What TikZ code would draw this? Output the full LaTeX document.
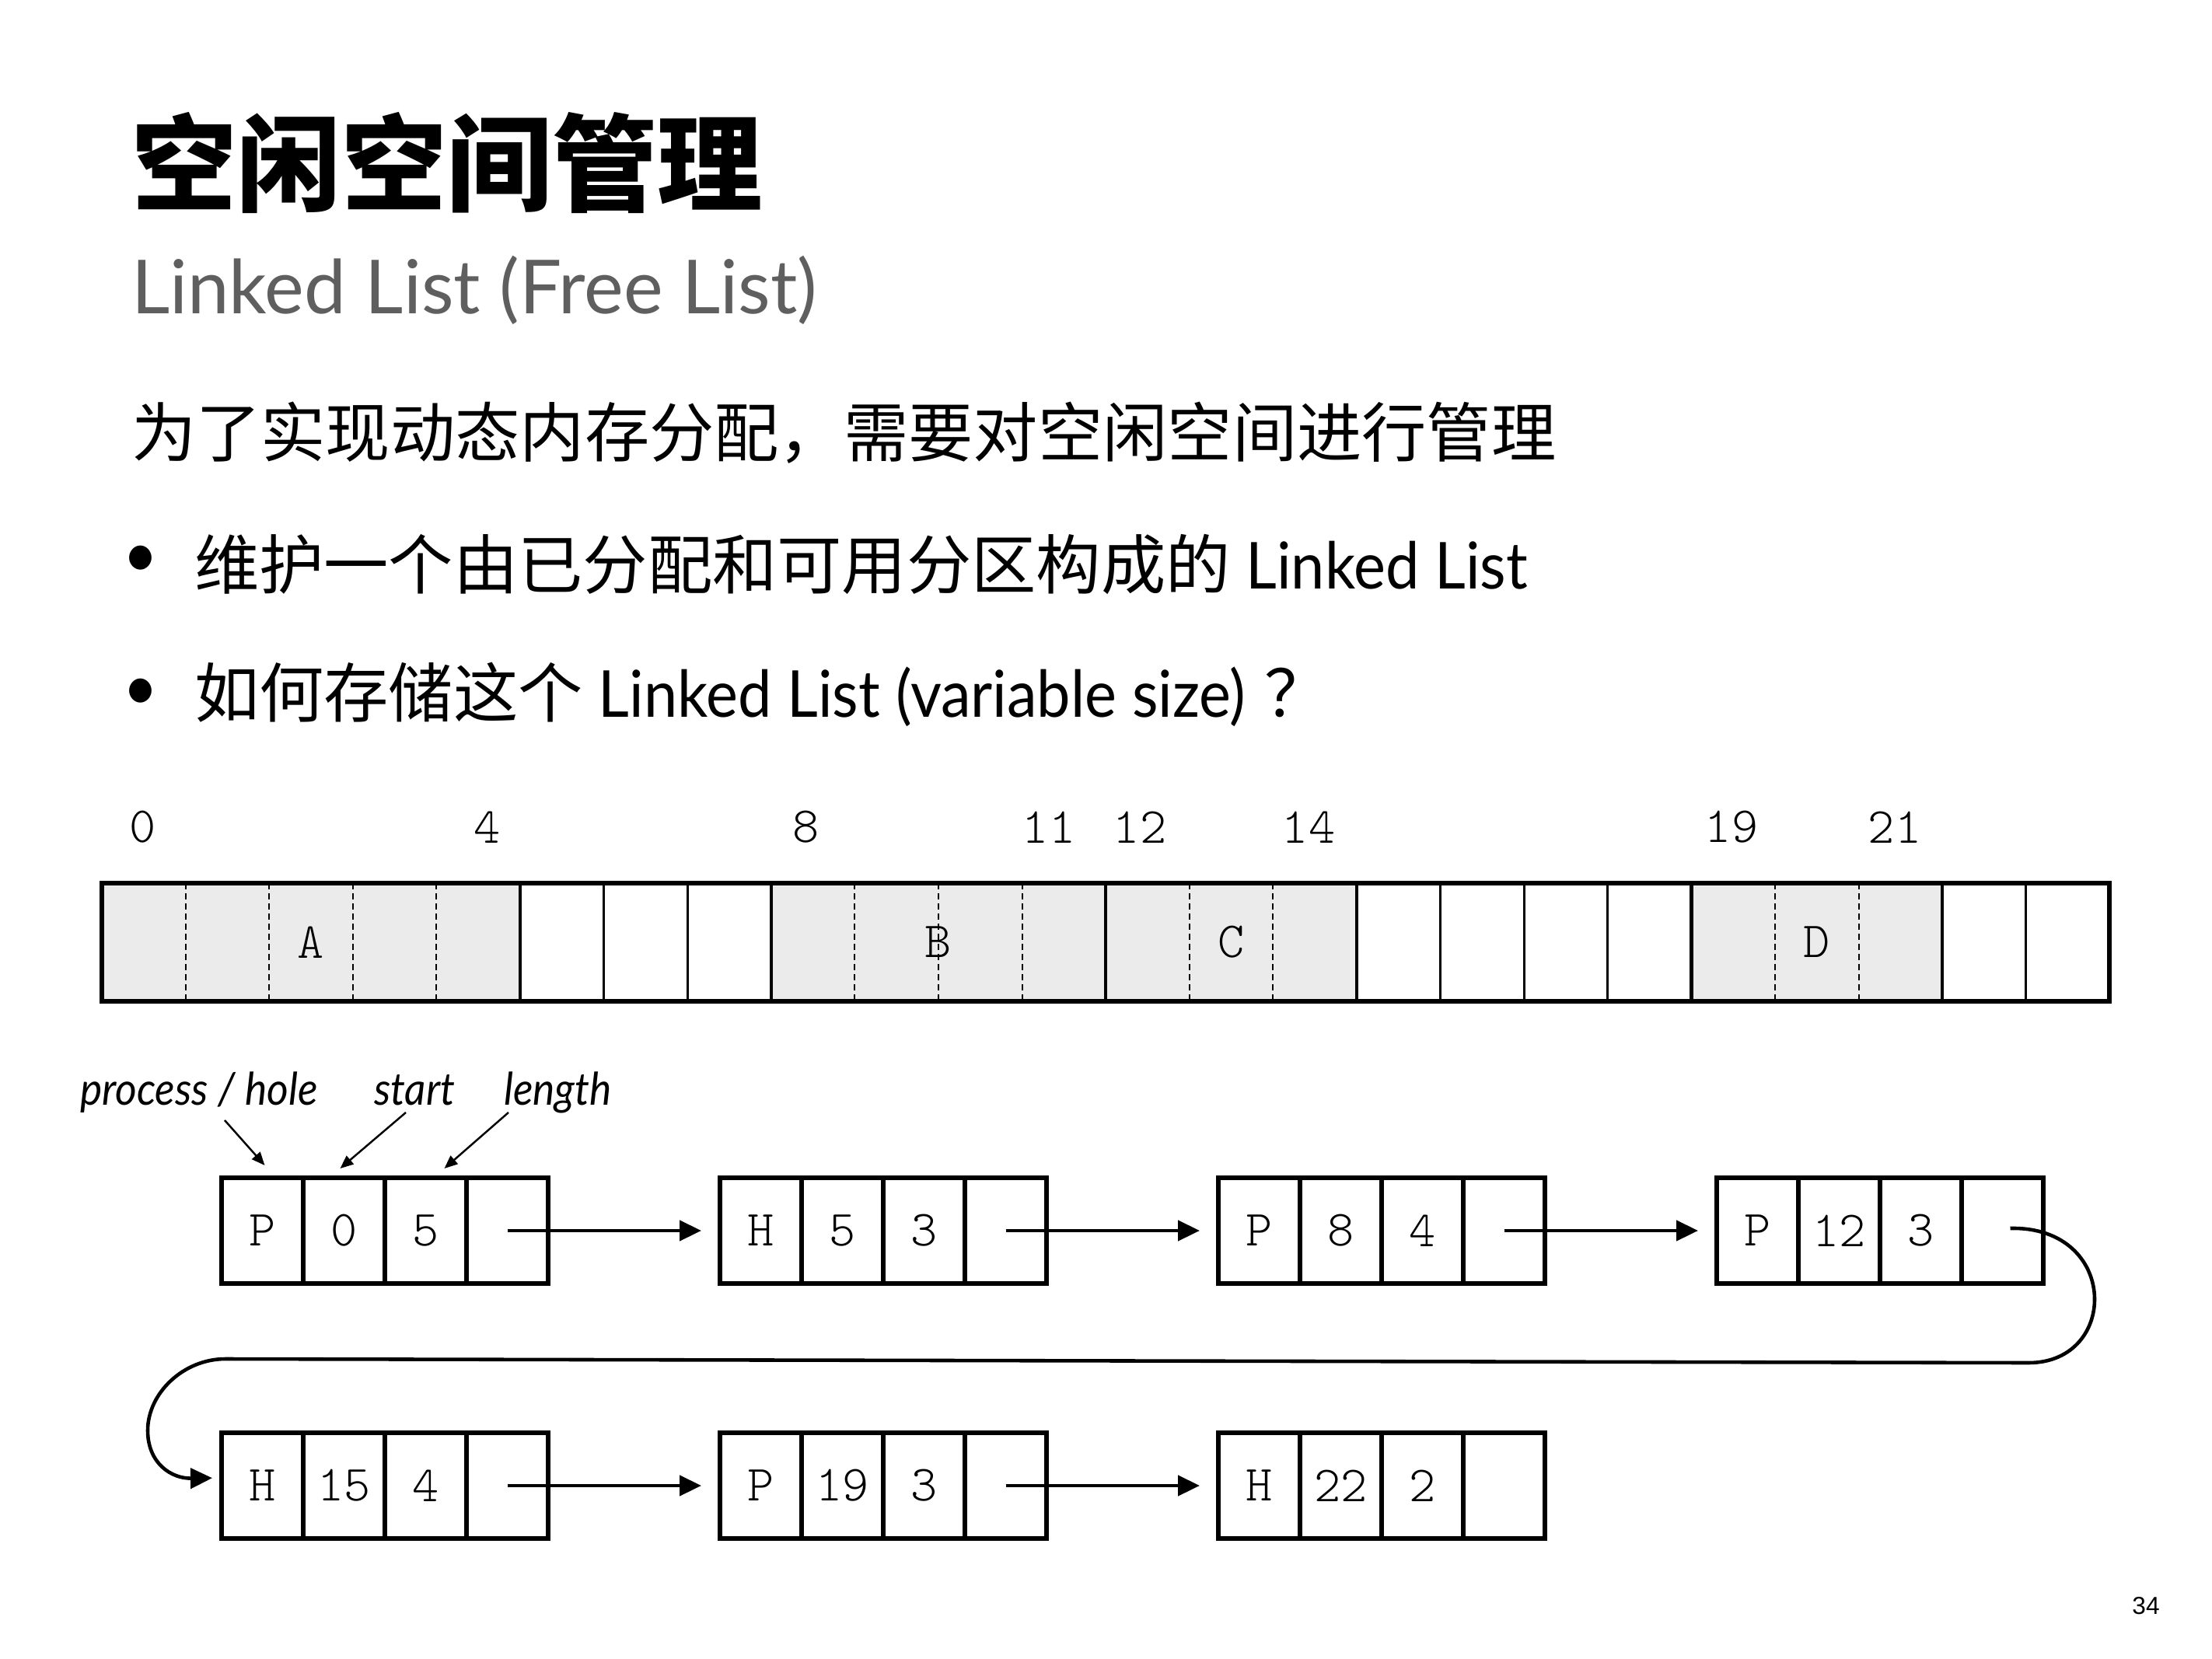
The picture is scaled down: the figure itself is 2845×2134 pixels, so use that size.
\documentclass[tikz,border=0pt]{standalone}
\usepackage{fontspec}
\usepackage{tikz}
\usepackage{xcolor}
\usetikzlibrary{positioning,arrows.meta}
\setmainfont{Lato}[FakeStretch=0.93]
\newfontfamily\subfont{Lato}
\newfontfamily\cjk{Noto Sans CJK SC}
\newfontfamily\mono{lmmonolt10-regular.otf}
\newfontfamily\notefont[FakeStretch=0.92]{Lato}
\newfontfamily\pagefont{Liberation Sans}
\definecolor{subgray}{HTML}{5F5F5F}
\definecolor{blockgray}{HTML}{EBEBEB}

\begin{document}
\begin{tikzpicture}[x=0.1mm,y=-0.1mm,
  every node/.style={inner sep=0pt,outer sep=0pt},
  txt/.style={anchor=west},
  memno/.style={font={\fontsize{18.5}{20}\selectfont\mono}},
  usedblk/.style={draw,line width=1.2pt,fill=blockgray,minimum height=15.2mm,font={\fontsize{18.5}{20}\selectfont\mono}},
  freecell/.style={draw,line width=0.8pt,fill=white,minimum width=10.76mm,minimum height=15.2mm},
  cut/.style={line width=0.6pt,dash pattern=on 0.75mm off 0.55mm},
  field/.style={draw,line width=1.5pt,minimum width=10.5mm,minimum height=13.6mm,font={\fontsize{18.5}{20}\selectfont\mono}},
  link/.style={line width=1.3pt,-{Triangle[length=2.8mm,width=2.6mm]},shorten >=2.4mm},
  note/.style={line width=0.7pt,-{Triangle[length=1.7mm,width=1.4mm]}},
  tag/.style={anchor=base west,font={\fontsize{16.5}{18}\selectfont\notefont\itshape}}]
\fill[white] (0,0) rectangle (2845,2134);
\useasboundingbox (0,0) rectangle (2845,2134);
\node[txt] (title) at (169,209) {\fontsize{38.5}{44}\selectfont\cjk\bfseries 空闲空间管理};
\node[anchor=base west,text=subgray] (subtitle) at (169,403) {\fontsize{27.3}{31}\selectfont\subfont Linked List (Free List)};
\node[txt] (intro) at (169,557) {\fontsize{23.7}{28}\selectfont\cjk 为了实现动态内存分配，需要对空闲空间进行管理};
\node (dot1) at (181,722) {\fontsize{23.7}{28}\selectfont\textbullet};
\node[txt] (item1) at (250,726) {\fontsize{23.7}{28}\selectfont{\cjk 维护一个由已分配和可用分区构成的} Linked List};
\node (dot2) at (181,893) {\fontsize{23.7}{28}\selectfont\textbullet};
\node[txt] (item2) at (250,893) {\fontsize{23.7}{28}\selectfont{\cjk 如何存储这个} Linked List (variable size)\kern7pt{\cjk ？}};
\node[memno] (a0) at (184,1064) {0};
\node[memno] (a4) at (627,1064) {4};
\node[memno] (a8) at (1037,1064) {8};
\node[memno] (a11) at (1349,1064) {11};
\node[memno] (a12) at (1466,1064) {12};
\node[memno] (a14) at (1683,1064) {14};
\node[memno] (a19) at (2227,1064) {19};
\node[memno] (a21) at (2437,1064) {21};
\node[freecell] (m5) at (722.8,1212) {};
\node[freecell] (m6) at (830.4,1212) {};
\node[freecell] (m7) at (938,1212) {};
\node[freecell] (m15) at (1798.8,1212) {};
\node[freecell] (m16) at (1906.4,1212) {};
\node[freecell] (m17) at (2014,1212) {};
\node[freecell] (m18) at (2121.6,1212) {};
\node[freecell] (m22) at (2551.6,1212) {};
\node[freecell] (m23) at (2659.2,1212) {};
\node[usedblk,minimum width=53.8mm] (blkA) at (400,1212) {A};
\node[usedblk,minimum width=43.04mm] (blkB) at (1207,1212) {B};
\node[usedblk,minimum width=32.28mm] (blkC) at (1583.6,1212) {C};
\node[usedblk,minimum width=32.28mm] (blkD) at (2336.8,1212) {D};
\draw[cut] (238.6,1136) -- (238.6,1288);
\draw[cut] (346.2,1136) -- (346.2,1288);
\draw[cut] (453.8,1136) -- (453.8,1288);
\draw[cut] (561.4,1136) -- (561.4,1288);
\draw[cut] (1099.4,1136) -- (1099.4,1288);
\draw[cut] (1207,1136) -- (1207,1288);
\draw[cut] (1314.6,1136) -- (1314.6,1288);
\draw[cut] (1529.8,1136) -- (1529.8,1288);
\draw[cut] (1637.4,1136) -- (1637.4,1288);
\draw[cut] (2283,1136) -- (2283,1288);
\draw[cut] (2390.6,1136) -- (2390.6,1288);
\draw[line width=1.7pt] (blkA.north west) rectangle (m23.south east);
\node[field] (e0k) at (337.5,1583) {P};
\node[field,right=0pt of e0k] (e0s) {0};
\node[field,right=0pt of e0s] (e0l) {5};
\node[field,right=0pt of e0l] (e0n) {};
\node[field] (e5k) at (978.5,1583) {H};
\node[field,right=0pt of e5k] (e5s) {5};
\node[field,right=0pt of e5s] (e5l) {3};
\node[field,right=0pt of e5l] (e5n) {};
\node[field] (e8k) at (1619.5,1583) {P};
\node[field,right=0pt of e8k] (e8s) {8};
\node[field,right=0pt of e8s] (e8l) {4};
\node[field,right=0pt of e8l] (e8n) {};
\node[field] (e12k) at (2260.5,1583) {P};
\node[field,right=0pt of e12k] (e12s) {12};
\node[field,right=0pt of e12s] (e12l) {3};
\node[field,right=0pt of e12l] (e12n) {};
\node[field] (e15k) at (337.5,1911) {H};
\node[field,right=0pt of e15k] (e15s) {15};
\node[field,right=0pt of e15s] (e15l) {4};
\node[field,right=0pt of e15l] (e15n) {};
\node[field] (e19k) at (978.5,1911) {P};
\node[field,right=0pt of e19k] (e19s) {19};
\node[field,right=0pt of e19s] (e19l) {3};
\node[field,right=0pt of e19l] (e19n) {};
\node[field] (e22k) at (1619.5,1911) {H};
\node[field,right=0pt of e22k] (e22s) {22};
\node[field,right=0pt of e22s] (e22l) {2};
\node[field,right=0pt of e22l] (e22n) {};
\draw[link] (e0n.center) -- (e5k.west);
\draw[link] (e5n.center) -- (e8k.west);
\draw[link] (e8n.center) -- (e12k.west);
\draw[link] (e15n.center) -- (e19k.west);
\draw[link] (e19n.center) -- (e22k.west);
\draw[link,shorten >=1.2mm] ([xshift=1mm,yshift=0.3mm]e12n.center) .. controls (2726,1577) and (2726,1753) .. (2609,1753) -- (290,1748) .. controls (236,1748) and (190,1792) .. (190,1840) .. controls (190,1882) and (220,1902) .. ([yshift=1mm]e15k.west);
\node[tag] (lblkind) at (103,1421) {process / hole};
\node[tag] (lblstart) at (481,1421) {start};
\node[tag] (lbllen) at (648,1421) {length};
\coordinate (kindfrom) at (289,1441);
\coordinate (startfrom) at (522,1431);
\coordinate (lenfrom) at (654,1431);
\draw[note] (kindfrom) -- ([xshift=0.3mm,yshift=1.6mm]e0k.north);
\draw[note] (startfrom) -- ([xshift=-0.5mm,yshift=1.2mm]e0s.north);
\draw[note] (lenfrom) -- ([xshift=2.4mm,yshift=1.2mm]e0l.north);
\node[font={\fontsize{9}{10}\selectfont\pagefont}] (pageno) at (2760,2066) {34};
\end{tikzpicture}
\end{document}
